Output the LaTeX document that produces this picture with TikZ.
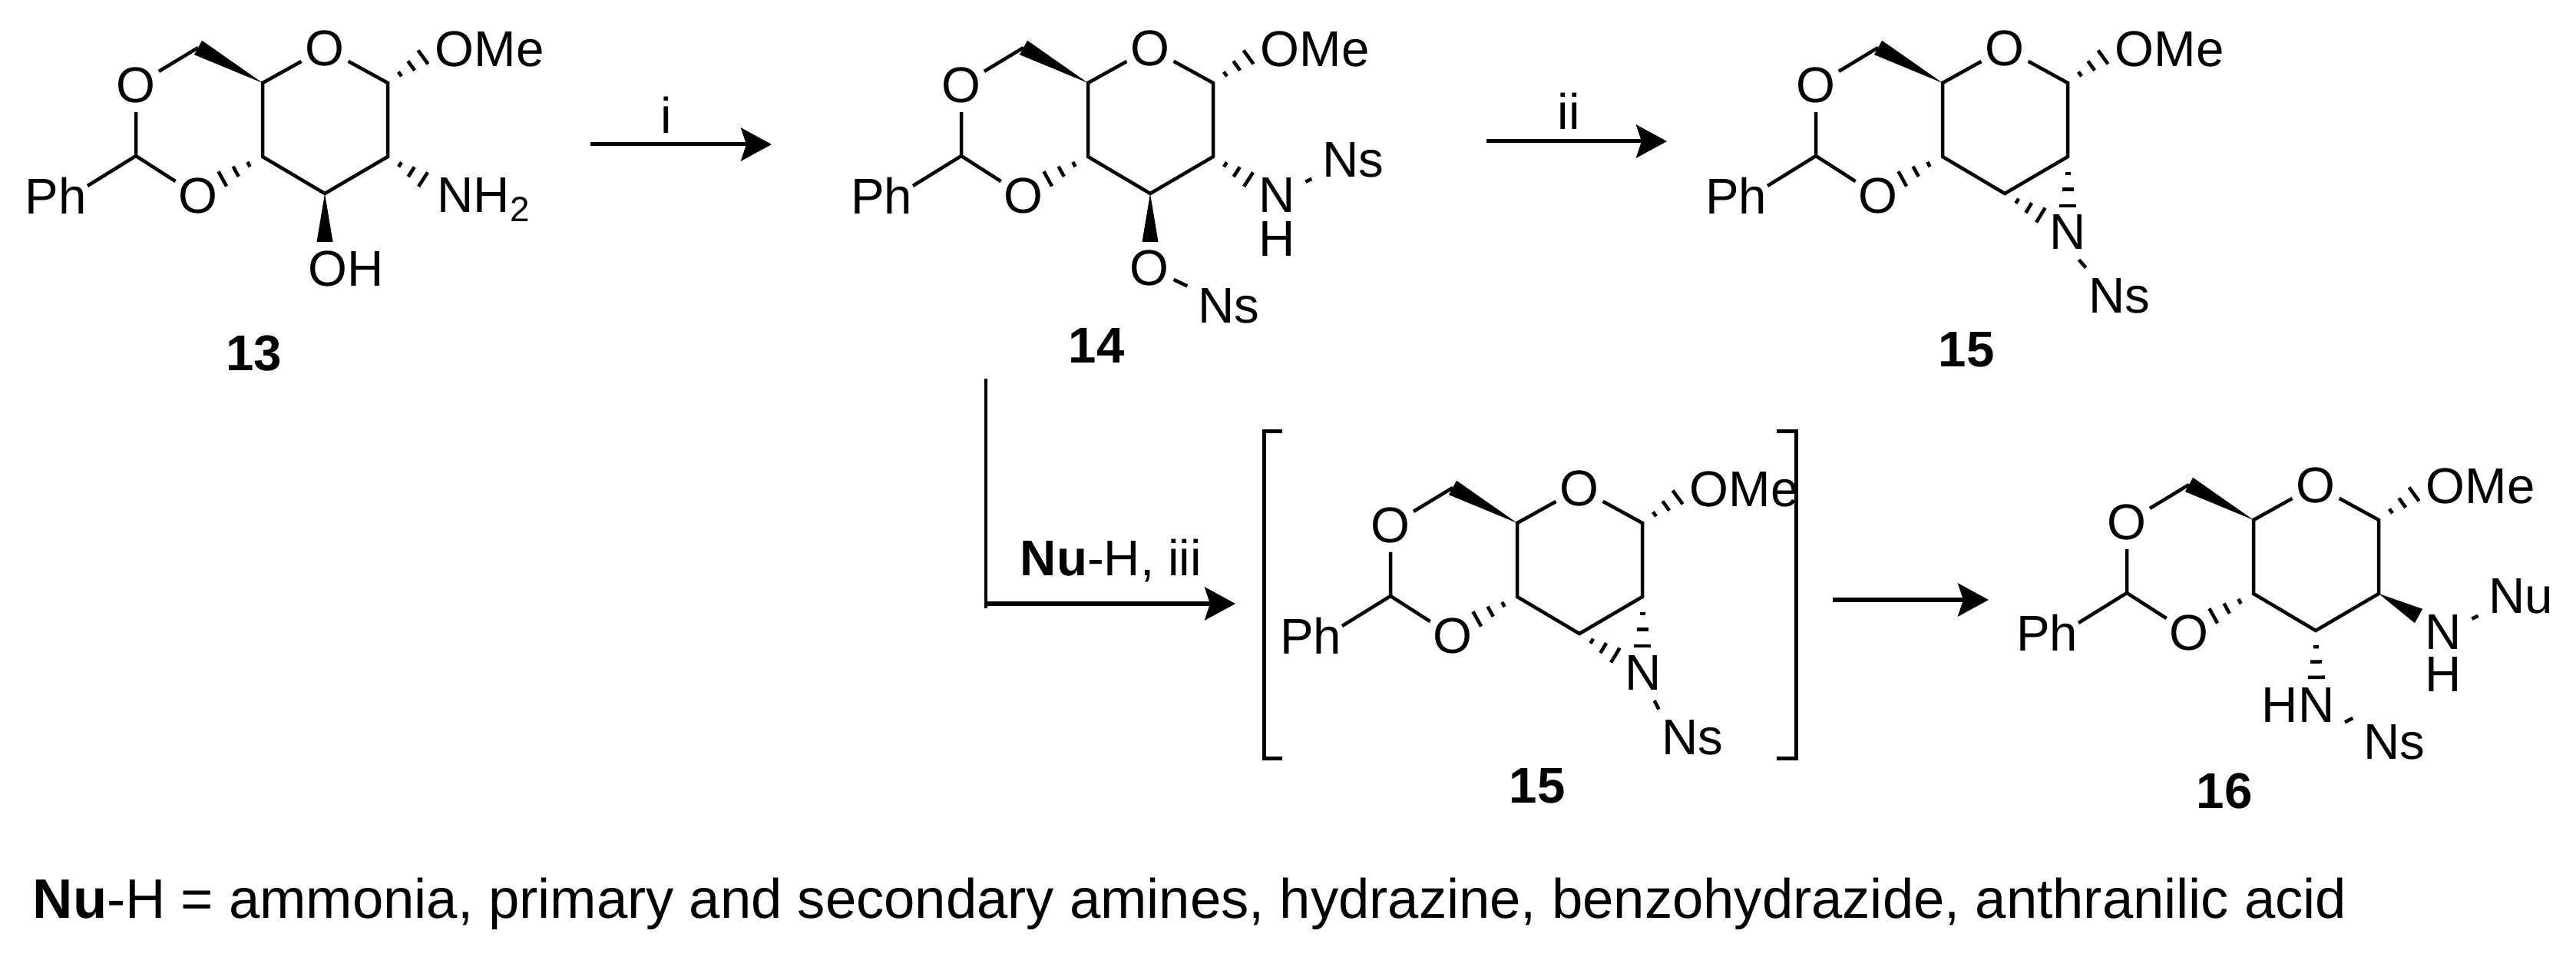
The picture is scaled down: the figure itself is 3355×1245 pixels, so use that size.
\documentclass[tikz,border=0pt]{standalone}
\usepackage{fontspec}
\setmainfont{Liberation Sans}
\usetikzlibrary{arrows.meta,calc}
\tikzset{
	bond/.style={line width=.045cm},
	atom/.style={circle,inner sep=0pt,minimum size=.64cm,font=\fontsize{18.6}{20}\selectfont},
	group/.style={rectangle,inner sep=.13cm,font=\fontsize{18.6}{20}\selectfont},
	plain/.style={inner sep=0pt,font=\fontsize{18.6}{20}\selectfont},
	number/.style={inner sep=0pt,font=\fontsize{18.6}{20}\selectfont\bfseries},
	rxn/.style={line width=.05cm,-{Stealth[length=.4cm,width=.43cm,inset=.07cm]}},
}
% hashed bond, three ticks growing towards the second point
\newcommand{\hashbond}[2]{
	\foreach \pos/\wid in {.27/.035,.52/.075,.78/.11}{
		\coordinate (tick) at ($(#1)!\pos!(#2)$);
		\draw[bond] ($(tick)!\wid cm!90:(#2)$) -- ($(tick)!\wid cm!-90:(#2)$);
	}
}
\newcommand{\wedgebond}[2]{
	\fill ($(#2)!.105cm!90:(#1)$) -- (#1) -- ($(#2)!.105cm!-90:(#1)$) -- cycle;
}
% the ring system all five pictures share
\newcommand{\sugar}[1]{
	\coordinate (#1c5) at (0,0);
	\coordinate (#1c1) at (163,0);
	\coordinate (#1c2) at (163,-96);
	\coordinate (#1c3) at (81,-144);
	\coordinate (#1c4) at (0,-96);
	\coordinate (#1ch) at (-84,46);
	\coordinate (#1ac) at (-165,-95);
	\coordinate (#1pb) at (-228,-134);
	\coordinate (#1mb) at (222,43);
	\coordinate (#1ob) at (-67,-133);
	\node[atom] (#1or) at (81,45) {O};
	\node[atom] (#1o6) at (-165,-3) {O};
	\node[atom] (#1o4) at (-84,-147) {O};
	\node[plain] (#1ph) at (-269,-147) {Ph};
	\node[plain,anchor=west] (#1ome) at (224,44) {OMe};
	\draw[bond] (#1or) -- (#1c5) -- (#1c4) -- (#1c3) -- (#1c2) -- (#1c1) -- (#1or);
	\draw[bond] (#1ch) -- (#1o6) -- (#1ac) -- (#1o4);
	\draw[bond] (#1ac) -- (#1pb);
	\wedgebond{#1c5}{#1ch}
	\hashbond{#1c1}{#1mb}
	\hashbond{#1c4}{#1ob}
}
\begin{document}
\begin{tikzpicture}[x=.01cm,y=.01cm]
	\useasboundingbox (0,0) rectangle (3355,1245);

	% 13
	\begin{scope}[shift={(342,1137)}]
		\sugar{a}
		\coordinate (ah) at (222,-134);
		\coordinate (aw) at (81,-207);
		\node[plain,anchor=base west] (anh) at (227,-169) {NH\textsubscript{2}};
		\node[plain,anchor=west] (aoh) at (59,-242) {OH};
		\node[number] (alab) at (-11,-352) {13};
		\hashbond{ac2}{ah}
		\wedgebond{ac3}{aw}
	\end{scope}

	% 14
	\begin{scope}[shift={(1417,1137)}]
		\sugar{b}
		\coordinate (bh) at (222,-134);
		\coordinate (bw) at (81,-207);
		\node[group,inner ysep=0pt] (bn) at (246,-146) {N};
		\node[plain] (bnh) at (246,-203) {H};
		\node[group] (bns) at (345,-100) {Ns};
		\node[atom] (bo) at (80,-241) {O};
		\node[group] (bos) at (183,-290) {Ns};
		\node[number] (blab) at (11,-342) {14};
		\hashbond{bc2}{bh}
		\wedgebond{bc3}{bw}
		\draw[bond] (bn) -- (bns);
		\draw[bond] (bo) -- (bos);
	\end{scope}

	% 15
	\begin{scope}[shift={(2530,1137)}]
		\sugar{c}
		\coordinate (ch1) at (163,-178);
		\coordinate (ch2) at (141,-180);
		\node[group] (cn) at (163,-194) {N};
		\node[group] (cns) at (230,-277) {Ns};
		\node[number] (clab) at (31,-347) {15};
		\hashbond{cc2}{ch1}
		\hashbond{cc3}{ch2}
		\draw[bond] (cn.-68) -- (cns.140);
	\end{scope}

	% 15 in brackets
	\begin{scope}[shift={(1976,564)}]
		\sugar{d}
		\coordinate (dh1) at (163,-178);
		\coordinate (dh2) at (141,-180);
		\node[group] (dn) at (164,-195) {N};
		\node[group] (dns) at (228,-279) {Ns};
		\node[number] (dlab) at (26,-342) {15};
		\hashbond{dc2}{dh1}
		\hashbond{dc3}{dh2}
		\draw[bond] (dn.-68) -- (dns.140);
	\end{scope}
	\coordinate (lt) at (1670,683);
	\coordinate (lb) at (1670,258);
	\coordinate (rt) at (2314,683);
	\coordinate (rb) at (2314,258);
	\draw[line width=.05cm] (lt) -| (1646,258) -- (lb);
	\draw[line width=.05cm] (rt) -| (2339,258) -- (rb);

	% 16
	\begin{scope}[shift={(2935,568)}]
		\sugar{e}
		\coordinate (eh) at (82,-222);
		\coordinate (ew) at (215,-125);
		\node[group,inner ysep=.06cm] (ehn) at (58,-241) {HN};
		\node[group] (ens) at (183,-289) {Ns};
		\node[group,inner ysep=0pt] (en) at (247,-146) {N};
		\node[plain] (enh) at (247,-201) {H};
		\node[group] (enu) at (348,-99) {Nu};
		\node[number] (elab) at (-38,-353) {16};
		\hashbond{ec3}{eh}
		\wedgebond{ec2}{ew}
		\draw[bond] (en) -- (enu);
		\draw[bond] (ehn.-20) -- (ens.150);
	\end{scope}

	% arrows
	\coordinate (i1) at (769,1057);
	\coordinate (i2) at (1005,1057);
	\coordinate (ii1) at (1936,1061);
	\coordinate (ii2) at (2171,1061);
	\coordinate (iii1) at (1284,752);
	\coordinate (iii2) at (1284,453);
	\coordinate (iii3) at (1609,459);
	\coordinate (iii4) at (1286,459);
	\coordinate (iv1) at (2387,464);
	\coordinate (iv2) at (2590,464);
	\draw[rxn] (i1) -- (i2);
	\draw[rxn] (ii1) -- (ii2);
	\draw[bond] (iii1) -- (iii2);
	\draw[rxn] (iii4) -- (iii3);
	\draw[rxn] (iv1) -- (iv2);
	\node[plain] (ilab) at (868,1095) {i};
	\node[plain] (iilab) at (2043,1100) {ii};
	\node[plain,anchor=base] (iiilab) at (1447,495) {\textbf{Nu}-H, iii};
	\node[plain,anchor=base west,font=\fontsize{20.6}{22}\selectfont] (nulab) at (42,50) {\textbf{Nu}-H = ammonia, primary and secondary amines, hydrazine, benzohydrazide, anthranilic acid};
\end{tikzpicture}
\end{document}
